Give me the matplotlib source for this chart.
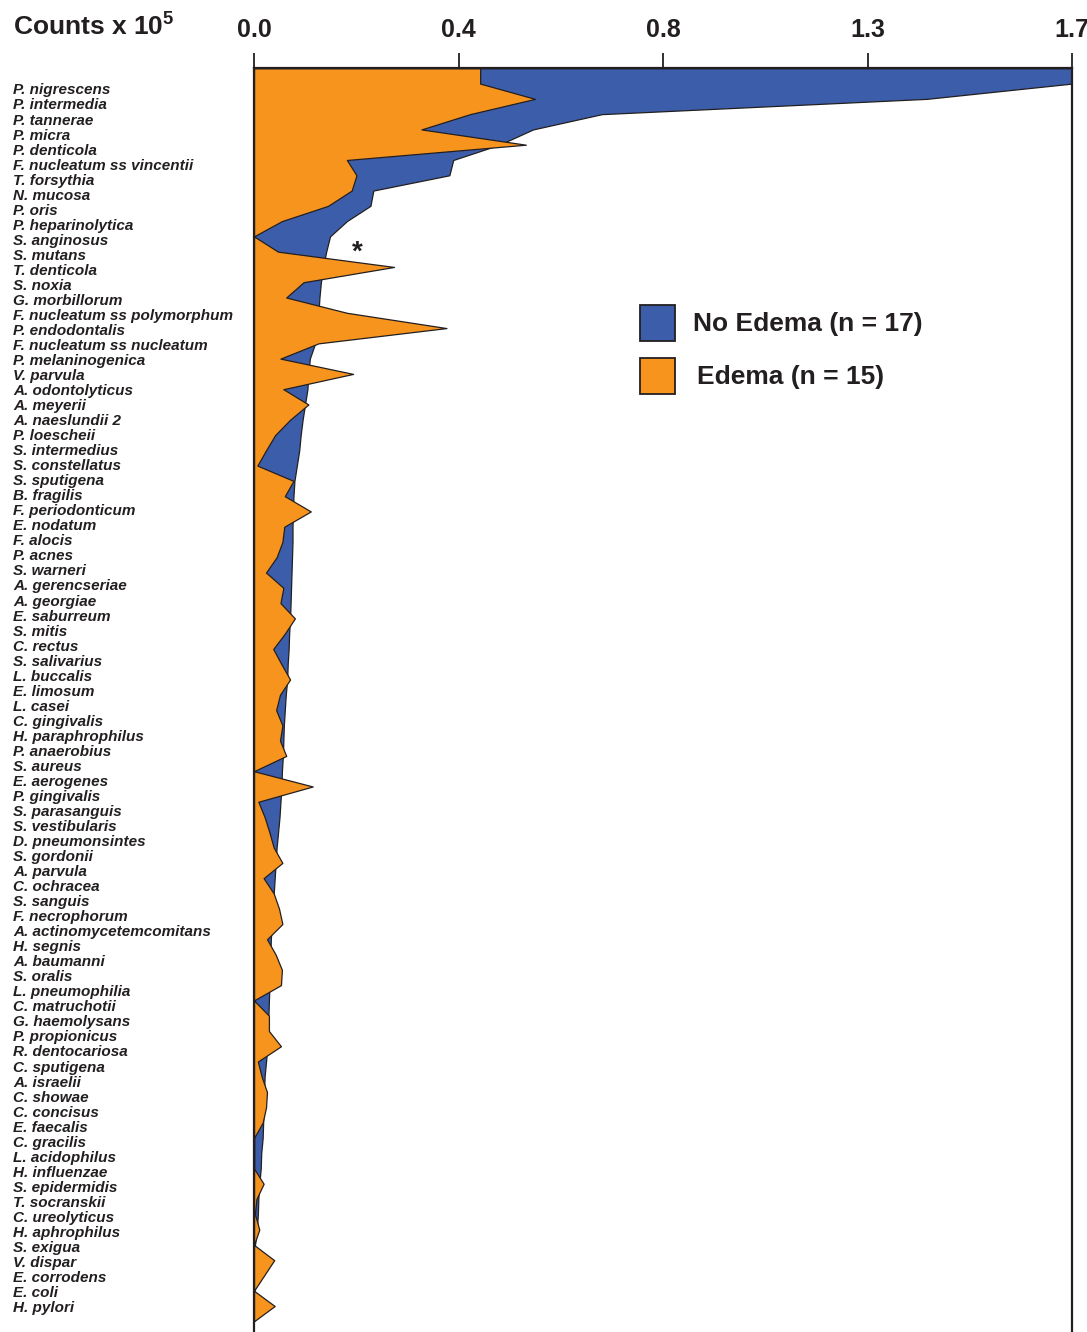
import numpy as np
import matplotlib.pyplot as plt
from matplotlib.transforms import blended_transform_factory
from matplotlib.patches import Rectangle

plt.rcParams['font.family'] = ['Liberation Sans', 'DejaVu Sans']
plt.rcParams['mathtext.fontset'] = 'custom'
plt.rcParams['mathtext.rm'] = 'Liberation Sans'
plt.rcParams['mathtext.bf'] = 'Liberation Sans:bold'

# species, ordered by No Edema counts
species = [
    "P. nigrescens", "P. intermedia", "P. tannerae", "P. micra", "P. denticola",
    "F. nucleatum ss vincentii", "T. forsythia", "N. mucosa", "P. oris",
    "P. heparinolytica", "S. anginosus", "S. mutans", "T. denticola", "S. noxia",
    "G. morbillorum", "F. nucleatum ss polymorphum", "P. endodontalis",
    "F. nucleatum ss nucleatum", "P. melaninogenica", "V. parvula",
    "A. odontolyticus", "A. meyerii", "A. naeslundii 2", "P. loescheii",
    "S. intermedius", "S. constellatus", "S. sputigena", "B. fragilis",
    "F. periodonticum", "E. nodatum", "F. alocis", "P. acnes", "S. warneri",
    "A. gerencseriae", "A. georgiae", "E. saburreum", "S. mitis", "C. rectus",
    "S. salivarius", "L. buccalis", "E. limosum", "L. casei", "C. gingivalis",
    "H. paraphrophilus", "P. anaerobius", "S. aureus", "E. aerogenes",
    "P. gingivalis", "S. parasanguis", "S. vestibularis", "D. pneumonsintes",
    "S. gordonii", "A. parvula", "C. ochracea", "S. sanguis", "F. necrophorum",
    "A. actinomycetemcomitans", "H. segnis", "A. baumanni", "S. oralis",
    "L. pneumophilia", "C. matruchotii", "G. haemolysans", "P. propionicus",
    "R. dentocariosa", "C. sputigena", "A. israelii", "C. showae", "C. concisus",
    "E. faecalis", "C. gracilis", "L. acidophilus", "H. influenzae",
    "S. epidermidis", "T. socranskii", "C. ureolyticus", "H. aphrophilus",
    "S. exigua", "V. dispar", "E. corrodens", "E. coli", "H. pylori",
]

# mean counts x 10^5
no_edema = [
    1.700, 1.398, 0.723, 0.580, 0.510, 0.414, 0.406, 0.248, 0.242, 0.193,
    0.158, 0.150, 0.144, 0.139, 0.136, 0.134, 0.130, 0.127, 0.116, 0.113,
    0.111, 0.106, 0.101, 0.097, 0.094, 0.089, 0.084, 0.082, 0.081, 0.080,
    0.080, 0.079, 0.078, 0.077, 0.076, 0.075, 0.073, 0.072, 0.070, 0.069,
    0.066, 0.064, 0.062, 0.061, 0.060, 0.058, 0.057, 0.055, 0.053, 0.050,
    0.047, 0.045, 0.043, 0.041, 0.039, 0.037, 0.035, 0.034, 0.033, 0.032,
    0.031, 0.030, 0.029, 0.028, 0.025, 0.022, 0.021, 0.020, 0.019, 0.018,
    0.015, 0.014, 0.011, 0.009, 0.008, 0.006, 0.002, 0.000, 0.000, 0.000,
    0.000, 0.000,
]
edema = [
    0.470, 0.584, 0.449, 0.348, 0.565, 0.193, 0.213, 0.203, 0.154, 0.058,
    0.000, 0.050, 0.291, 0.103, 0.067, 0.193, 0.400, 0.134, 0.055, 0.206,
    0.061, 0.113, 0.075, 0.044, 0.025, 0.007, 0.082, 0.064, 0.118, 0.063,
    0.059, 0.047, 0.025, 0.061, 0.055, 0.085, 0.064, 0.040, 0.057, 0.075,
    0.054, 0.046, 0.059, 0.054, 0.067, 0.000, 0.122, 0.009, 0.022, 0.032,
    0.041, 0.059, 0.020, 0.041, 0.052, 0.059, 0.027, 0.045, 0.058, 0.056,
    0.000, 0.031, 0.031, 0.056, 0.008, 0.016, 0.027, 0.025, 0.018, 0.000,
    0.000, 0.000, 0.020, 0.005, 0.002, 0.011, 0.000, 0.042, 0.021, 0.000,
    0.043, 0.000,
]

legend_labels = ["No Edema (n = 17)", "Edema (n = 15)"]
x_ticks = np.linspace(0, 1.7, 5)

BLUE = "#3c5eaa"
ORANGE = "#f7941e"
INK = "#231f20"

W, H = 1087, 1332
fig = plt.figure(figsize=(W / 100, H / 100), dpi=100)
ax = fig.add_axes([254 / W, 0, 818 / W, (H - 68.3) / H])

# one row per species, the first row carried up to the top edge
rows = np.arange(1, len(species) + 1)
y = np.concatenate([[0], rows])
for vals, color, z in [(no_edema, BLUE, 2), (edema, ORANGE, 3)]:
    x = np.concatenate([[vals[0]], vals])
    ax.fill_betweenx(y, 0, x, facecolor=color, edgecolor=INK,
                     linewidth=0.9, zorder=z)

ax.set_xlim(0, 1.7)
ax.set_ylim(82.7, 0)

for side in ["top", "left", "right"]:
    ax.spines[side].set_color(INK)
    ax.spines[side].set_linewidth(1.6)
    ax.spines[side].set_zorder(5)
ax.spines["bottom"].set_visible(False)

ax.xaxis.tick_top()
ax.set_xticks(x_ticks)
ax.set_xticklabels(["%.1f" % t for t in x_ticks])
ax.tick_params(axis="x", direction="out", length=11, width=1.3, color=INK,
               labelsize=18, labelcolor=INK, pad=8)
for lab in ax.get_xticklabels():
    lab.set_fontweight("bold")
ax.set_yticks([])

# species names down the left side
tr = blended_transform_factory(fig.transFigure, ax.transData)
label_y = np.linspace(1.45, 81.13, len(species))
for name, yy in zip(species, label_y):
    ax.text(13 / W, yy, name, transform=tr, ha="left", va="center",
            fontsize=11, fontweight="bold", fontstyle="italic", color=INK)

# significance mark
ax.text(0.214, 12.55, "*", ha="center", va="baseline", fontsize=20,
        fontweight="bold", color=INK, zorder=6)

fig.text(13 / W, 1 - 35 / H, r"Counts x 10$^{\mathbf{5}}$", ha="left",
         va="baseline", fontsize=19, fontweight="bold", color=INK)

# legend
for (top, label, color, tx) in [(305, legend_labels[0], BLUE, 693),
                                (358, legend_labels[1], ORANGE, 697)]:
    fig.patches.append(Rectangle((640 / W, 1 - (top + 36) / H), 35 / W, 36 / H,
                                 transform=fig.transFigure, facecolor=color,
                                 edgecolor=INK, linewidth=1.3))
    fig.text(tx / W, 1 - (top + 19) / H, label, ha="left", va="center",
             fontsize=19, fontweight="bold", color=INK)

fig.savefig("out.png", dpi=100)
